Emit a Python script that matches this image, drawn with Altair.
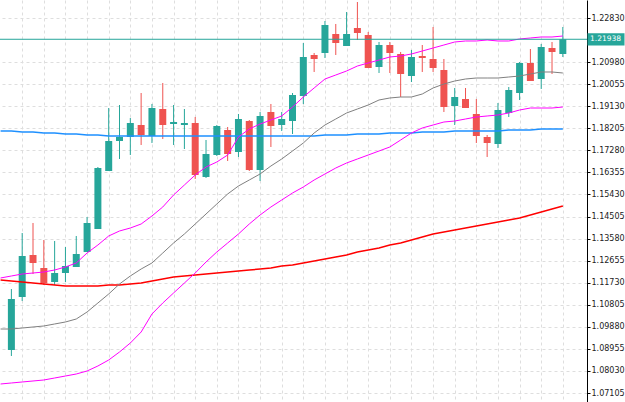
import altair as alt
import pandas as pd

# ---- candle data (bar index 0..51) ----
opens = [1.08908, 1.11131, 1.12892, 1.12347, 1.11760, 1.12137, 1.12389, 1.13018, 1.13982, 1.16414,
         1.17672, 1.17840, 1.18343, 1.17882, 1.19014, 1.18385, 1.18343, 1.18427, 1.16163, 1.17085,
         1.18134, 1.17211, 1.18511, 1.16456, 1.18889, 1.18343, 1.18511, 1.19559, 1.21279, 1.21363,
         1.22159, 1.21656, 1.22411, 1.22117, 1.20775, 1.21698, 1.21321, 1.20398, 1.21237, 1.21111,
         1.20650, 1.19140, 1.19434, 1.18805, 1.17840, 1.17547, 1.18847, 1.19685, 1.20943, 1.20272,
         1.21572, 1.21321]
highs = [1.11466, 1.13815, 1.14234, 1.13521, 1.13479, 1.13228, 1.13689, 1.14486, 1.16582, 1.19056,
         1.19182, 1.18637, 1.19685, 1.19224, 1.20105, 1.19182, 1.19014, 1.18679, 1.17714, 1.18343,
         1.18260, 1.18805, 1.18553, 1.18889, 1.19224, 1.18889, 1.19685, 1.21782, 1.21363, 1.22704,
         1.22579, 1.23082, 1.23501, 1.22243, 1.21824, 1.21824, 1.21405, 1.21488, 1.21698, 1.22453,
         1.21111, 1.19895, 1.19895, 1.19434, 1.17924, 1.19266, 1.19937, 1.20985, 1.21530, 1.21740,
         1.21824, 1.22453]
lows = [1.08657, 1.10963, 1.12095, 1.11634, 1.11634, 1.11760, 1.12389, 1.13018, 1.13982, 1.16414,
        1.16918, 1.17085, 1.17505, 1.17589, 1.17756, 1.17505, 1.17337, 1.16079, 1.16121, 1.17043,
        1.16834, 1.17002, 1.16414, 1.15995, 1.17421, 1.18092, 1.17966, 1.19224, 1.20566, 1.21153,
        1.21279, 1.21656, 1.21908, 1.20734, 1.20524, 1.20524, 1.19517, 1.20146, 1.20566, 1.20566,
        1.18889, 1.18343, 1.19056, 1.17589, 1.17002, 1.17379, 1.18679, 1.19392, 1.20188, 1.19853,
        1.20482, 1.21195]
closes = [1.11047, 1.12850, 1.12557, 1.11718, 1.12137, 1.12431, 1.12934, 1.14234, 1.16540, 1.17672,
          1.17840, 1.18427, 1.17924, 1.19056, 1.18343, 1.18469, 1.18427, 1.16247, 1.17127, 1.18301,
          1.17127, 1.18595, 1.16456, 1.18721, 1.18301, 1.18595, 1.19601, 1.21195, 1.21111, 1.22537,
          1.21782, 1.22159, 1.22201, 1.20734, 1.21698, 1.21363, 1.20482, 1.21195, 1.21153, 1.20734,
          1.19098, 1.19517, 1.19056, 1.17882, 1.17589, 1.18972, 1.19811, 1.20943, 1.20188, 1.21614,
          1.21405, 1.21938]

# ---- indicator lines (bar index -1..51) ----
bb_upper = [1.11928, 1.12012, 1.12095, 1.12137, 1.12179, 1.12263, 1.12389, 1.12557, 1.12976, 1.13311,
            1.13689, 1.13899, 1.14024, 1.14192, 1.14528, 1.14905, 1.15408, 1.15827, 1.16247, 1.16582,
            1.16792, 1.17085, 1.17840, 1.18176, 1.18385, 1.18553, 1.18721, 1.19098, 1.19517, 1.19895,
            1.20272, 1.20440, 1.20608, 1.20817, 1.20943, 1.21069, 1.21195, 1.21237, 1.21321, 1.21446,
            1.21572, 1.21698, 1.21824, 1.21866, 1.21866, 1.21908, 1.21866, 1.21866, 1.21950, 1.21992,
            1.22034, 1.22034, 1.22075]
bb_mid = [1.09789, 1.09789, 1.09831, 1.09873, 1.09915, 1.09999, 1.10083, 1.10208, 1.10502, 1.10879,
          1.11257, 1.11676, 1.12012, 1.12305, 1.12557, 1.12976, 1.13395, 1.13773, 1.14192, 1.14611,
          1.15031, 1.15450, 1.15786, 1.16037, 1.16289, 1.16624, 1.16918, 1.17253, 1.17589, 1.18008,
          1.18343, 1.18595, 1.18847, 1.19014, 1.19182, 1.19392, 1.19476, 1.19517, 1.19517, 1.19643,
          1.19895, 1.20063, 1.20188, 1.20272, 1.20314, 1.20314, 1.20314, 1.20356, 1.20398, 1.20482,
          1.20566, 1.20566, 1.20524]
bb_lower = [1.07483, 1.07525, 1.07567, 1.07609, 1.07651, 1.07734, 1.07818, 1.07902, 1.08028, 1.08238,
            1.08489, 1.08825, 1.09202, 1.09663, 1.10418, 1.10879, 1.11299, 1.11718, 1.12137, 1.12599,
            1.13018, 1.13395, 1.13773, 1.14192, 1.14569, 1.14905, 1.15198, 1.15492, 1.15744, 1.16037,
            1.16289, 1.16540, 1.16750, 1.16918, 1.17085, 1.17253, 1.17421, 1.17714, 1.18008, 1.18218,
            1.18343, 1.18469, 1.18511, 1.18595, 1.18679, 1.18721, 1.18763, 1.18847, 1.18972, 1.19056,
            1.19056, 1.19056, 1.19098]
ma_red = [1.11844, 1.11802, 1.11760, 1.11718, 1.11676, 1.11634, 1.11592, 1.11592, 1.11592, 1.11592,
          1.11634, 1.11634, 1.11676, 1.11718, 1.11802, 1.11886, 1.11970, 1.12012, 1.12053, 1.12095,
          1.12137, 1.12179, 1.12221, 1.12263, 1.12305, 1.12347, 1.12431, 1.12473, 1.12557, 1.12641,
          1.12724, 1.12808, 1.12892, 1.13018, 1.13102, 1.13186, 1.13311, 1.13395, 1.13521, 1.13647,
          1.13773, 1.13857, 1.13940, 1.14024, 1.14108, 1.14192, 1.14276, 1.14360, 1.14444, 1.14569,
          1.14695, 1.14821, 1.14947]
ma_blue = [1.18092, 1.18092, 1.18050, 1.18050, 1.18008, 1.18008, 1.17966, 1.17966, 1.17924, 1.17924,
           1.17882, 1.17882, 1.17882, 1.17882, 1.17882, 1.17882, 1.17882, 1.17882, 1.17882, 1.17882,
           1.17882, 1.17882, 1.17882, 1.17882, 1.17882, 1.17882, 1.17882, 1.17882, 1.17882, 1.17882,
           1.17924, 1.17924, 1.17924, 1.17966, 1.17966, 1.17966, 1.18008, 1.18008, 1.18008, 1.18050,
           1.18050, 1.18050, 1.18092, 1.18092, 1.18092, 1.18092, 1.18092, 1.18134, 1.18134, 1.18134,
           1.18176, 1.18176, 1.18176]

last_price = [1.21938]
last_label = ["1.21938"]
y_ticks = [1.22830, 1.20980, 1.20055, 1.19130, 1.18205, 1.17280, 1.16355, 1.15430, 1.14505,
           1.13580, 1.12655, 1.11730, 1.10805, 1.09880, 1.08955, 1.08030, 1.07105]
grid_bars = list(range(1, 52, 2))

# ---- tables ----
n = len(opens)
candles = pd.DataFrame({
    "i": list(range(n)), "open": opens, "high": highs, "low": lows, "close": closes,
})
candles["dir"] = ["up" if c >= o else "down" for o, c in zip(opens, closes)]

line_i = list(range(-1, n))
lines = pd.DataFrame({"i": line_i, "upper": bb_upper, "mid": bb_mid, "lower": bb_lower,
                      "red": ma_red, "blue": ma_blue})
price = pd.DataFrame({"p": last_price, "label": last_label})

GREEN = "#26a69a"
RED = "#ef5350"
FONT = "DejaVu Sans"

xscale = alt.Scale(domain=[-6.5 / 11, 580.5 / 11], nice=False, zero=False)
yscale = alt.Scale(domain=[1.06728, 1.23585], nice=False, zero=False)
xaxis = alt.Axis(values=grid_bars, grid=True, labels=False, ticks=False, domain=False,
                 title=None, gridColor="#dedede", gridDash=[3, 3], gridWidth=1)
yaxis = alt.Axis(orient="right", values=y_ticks, format=".5f", grid=True, gridColor="#dedede",
                 gridDash=[3, 3], gridWidth=1, domain=True, domainColor="#000000", domainWidth=1,
                 tickColor="#000000", tickSize=3, labelPadding=1, labelFont=FONT, labelFontSize=8,
                 labelColor="#222222", title=None, labelFlush=False, labelOverlap=False)


def X(field):
    return alt.X(field, type="quantitative", scale=xscale, axis=xaxis, title=None)


def Y(field):
    return alt.Y(field, type="quantitative", scale=yscale, axis=yaxis, title=None)


color = alt.Color("dir:N", scale=alt.Scale(domain=["up", "down"], range=[GREEN, RED]), legend=None)

base = alt.Chart(candles)
wicks = base.mark_rule(strokeWidth=1).encode(x=X("i"), y=Y("low"), y2="high", color=color)
bodies = base.mark_bar(size=7).encode(x=X("i"), y=Y("open"), y2="close", color=color)

lbase = alt.Chart(lines)
l_red = lbase.mark_line(color="#ff0000", strokeWidth=1.5).encode(x=X("i"), y=Y("red"))
l_blue = lbase.mark_line(color="#1e90ff", strokeWidth=1.5).encode(x=X("i"), y=Y("blue"))
l_lower = lbase.mark_line(color="#ff00ff", strokeWidth=1).encode(x=X("i"), y=Y("lower"))
l_mid = lbase.mark_line(color="#808080", strokeWidth=1).encode(x=X("i"), y=Y("mid"))
l_upper = lbase.mark_line(color="#ff00ff", strokeWidth=1).encode(x=X("i"), y=Y("upper"))

pbase = alt.Chart(price)
p_line = pbase.mark_rule(color=GREEN, strokeWidth=1).encode(y=Y("p"))
p_box = pbase.mark_point(
    shape="M-1,-0.33L1,-0.33L1,0.33L-1,0.33Z", size=37 * 37, filled=True,
    fill=GREEN, opacity=1, strokeWidth=0,
).encode(x=alt.value(606), y=Y("p"))
p_text = pbase.mark_text(align="left", baseline="middle", color="white", font=FONT,
                         fontSize=7.5).encode(x=alt.value(590), y=Y("p"), text="label:N")

chart = alt.layer(
    wicks, bodies, l_red, l_blue, l_lower, l_mid, l_upper, p_line, p_box, p_text
).properties(
    width=587, height=402,
    padding={"left": 0, "top": 0, "right": 38, "bottom": 0},
    autosize=alt.AutoSizeParams(type="none"),
    background="white",
).configure_view(stroke=None)

chart.save("out.html", embed_options={"renderer": "svg", "actions": False})
